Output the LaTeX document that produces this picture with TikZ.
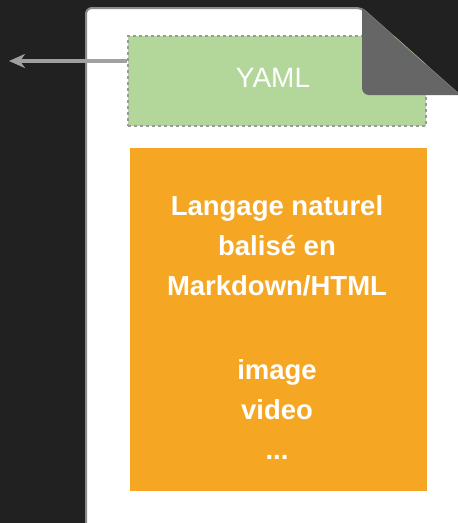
\documentclass[tikz,border=0pt]{standalone}
\usepackage{fontspec}
\setmainfont{Liberation Sans}
\usetikzlibrary{arrows.meta}
\definecolor{bg}{HTML}{212121}
\definecolor{fold}{HTML}{666666}
\definecolor{pageborder}{HTML}{8A8A8A}
\definecolor{yamlgreen}{HTML}{B3D69B}
\definecolor{dotgrey}{HTML}{999999}
\definecolor{mdorange}{HTML}{F5A623}
\definecolor{arrowgrey}{HTML}{A0A0A0}
\tikzset{
  yamlbox/.style={draw=dotgrey, line width=2.5pt, dash pattern=on 3pt off 3pt, fill=yamlgreen, minimum width=298pt, minimum height=90pt, inner sep=0pt},
  mdbox/.style={fill=mdorange, minimum width=297pt, minimum height=343pt, inner sep=0pt},
  mdtext/.style={font=\bfseries\fontsize{27.5}{40}\selectfont, text=white, align=center, inner sep=0pt},
  linkarrow/.style={draw=arrowgrey, line width=3.5pt, -{Stealth[length=16pt,width=14pt,inset=5pt]}}
}
\begin{document}
\begin{tikzpicture}[x=1pt,y=-1pt]
\fill[bg] (0,0) rectangle (458,523);
\useasboundingbox (0,0) rectangle (458,523);
% page
\draw[pageborder, line width=2pt, fill=white, rounded corners=6pt] (86,540) -- (86,8) -- (362,8) [sharp corners] -- (470,104) -- (470,540) -- cycle;
% YAML box
\node[yamlbox] (yaml) at (277,81) {};
\node[font=\fontsize{28}{32}\selectfont, text=white, inner sep=0pt] (yamltext) at (273,78) {YAML};
% fold
\fill[fold, rounded corners=7pt] (362,8) -- (362,95) -- (470,95) [sharp corners] -- (470,104) -- (362,8) -- cycle;
\fill[bg] (362,7) -- (470,7) -- (470,103) -- cycle;
% orange box
\node[mdbox] (md) at (278.5,319.5) {};
\node[mdtext] (mdtext) at (277,328) {Langage naturel\\balisé en\\Markdown/HTML\\[44pt]image\\video\\...};
% arrow
\coordinate (out) at (9,61);
\draw[linkarrow] (yaml.west |- 0,61) -- (out);
\end{tikzpicture}
\end{document}
